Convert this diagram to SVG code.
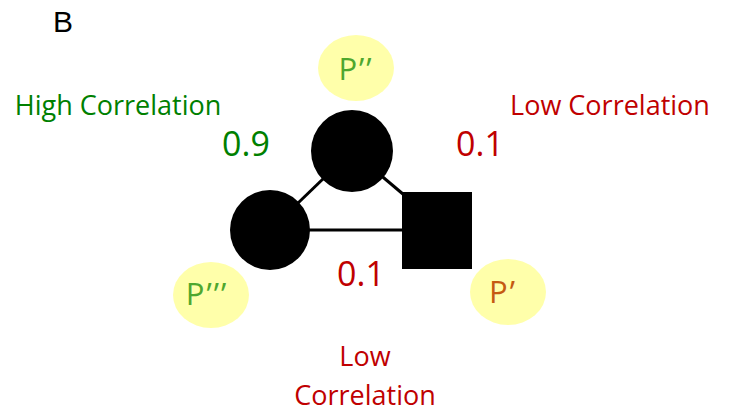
<svg xmlns="http://www.w3.org/2000/svg" width="732" height="420" viewBox="0 0 732 420">
<style>
.lbl{font-family:"Open Sans","Noto Sans","Liberation Sans",sans-serif;font-size:27px}
.num{font-family:"Open Sans","Noto Sans","Liberation Sans",sans-serif;font-size:34px}
.p{font-family:"Open Sans","Noto Sans","Liberation Sans",sans-serif;font-size:31px;letter-spacing:2px}
.g{fill:#008000}.r{fill:#C00000}
.halo{fill:#FFFFAA}
.edge{stroke:#000;stroke-width:3;fill:none}
</style>
<rect width="732" height="420" fill="#fff"/>
<text x="53" y="32" font-family="Liberation Sans,Arial,sans-serif" font-size="30" fill="#000">B</text>
<g id="halo-p2"><ellipse class="halo" cx="356" cy="68" rx="38" ry="33"/><text class="p" x="356" y="80" text-anchor="middle" fill="#4EA72E">P’’</text></g>
<g id="halo-p3"><ellipse class="halo" cx="211" cy="295" rx="38" ry="33"/><text class="p" x="207" y="305" text-anchor="middle" fill="#4EA72E">P’’’</text></g>
<g id="halo-p1"><ellipse class="halo" cx="508" cy="292" rx="38" ry="33"/><text class="p" x="503" y="303" text-anchor="middle" fill="#C55A11">P’</text></g>
<g id="connectors">
<line class="edge" x1="270" y1="230" x2="352" y2="151"/>
<line class="edge" x1="352" y1="151" x2="410" y2="200"/>
<line class="edge" x1="270" y1="230" x2="420" y2="230"/>
</g>
<g id="node-top"><circle cx="352" cy="151" r="41" fill="#000"/></g>
<g id="node-left"><circle cx="270" cy="230" r="40" fill="#000"/></g>
<g id="node-right"><rect x="402" y="192" width="70" height="77" fill="#000"/></g>
<g id="labels">
<text class="lbl g" x="118" y="115" text-anchor="middle">High Correlation</text>
<text class="lbl r" x="610" y="115" text-anchor="middle">Low Correlation</text>
<text class="num g" x="246" y="156" text-anchor="middle">0.9</text>
<text class="num r" x="480" y="156" text-anchor="middle">0.1</text>
<text class="num r" x="361" y="286" text-anchor="middle">0.1</text>
<text class="lbl r" x="365" y="366" text-anchor="middle">Low</text>
<text class="lbl r" x="365" y="405" text-anchor="middle">Correlation</text>
</g>
</svg>
